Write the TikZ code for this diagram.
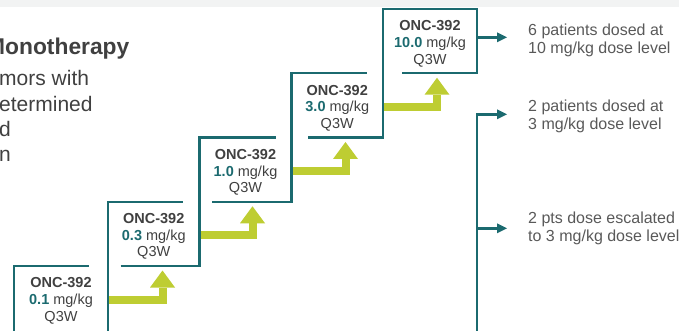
\documentclass[tikz,border=0pt]{standalone}
\usepackage{fontspec}
\setmainfont{Liberation Sans}
\usetikzlibrary{arrows.meta}
\definecolor{doseteal}{HTML}{1B6A6F}
\definecolor{stepgreen}{HTML}{BECD32}
\definecolor{inkgray}{HTML}{404040}
\definecolor{notegray}{HTML}{595959}
\definecolor{bandgray}{HTML}{F2F3F3}

\begin{document}
\begin{tikzpicture}[
    x=1pt, y=-1pt, % pixel-like units, y going down
    frame/.style={draw=doseteal, line width=2.5pt, line join=miter},
    teal arrow/.style={frame, -{Triangle[length=10pt, width=10pt, line width=0pt]}},
    step arrow/.style={draw=stepgreen, line width=8pt, line join=miter, -{Triangle[length=17pt, width=25pt, line width=0pt]}},
    dose/.style={align=center, inner sep=0pt, anchor=north, text=inkgray, font=\fontsize{14.5}{16.7}\selectfont},
    note/.style={align=left, inner sep=0pt, anchor=north west, text=notegray, font=\fontsize{16}{18.5}\selectfont},
    side/.style={inner sep=0pt, anchor=base west, text=inkgray, font=\fontsize{21}{25}\selectfont}
]

    \useasboundingbox (0,0) rectangle (679,331);
    \clip (0,0) rectangle (679,331);

    % --- TOP BAND ---
    \fill[bandgray] (0,0) rectangle (679,7);

    % --- LEFT TEXT (cut by the page edge) ---
    \node[side, font=\bfseries\fontsize{22.8}{25}\selectfont] (title) at (-14,54.5) {Monotherapy};
    \node[side] (line1) at (-1,85.5) {mors with};
    \node[side] (line2) at (-1,111.5) {etermined};
    \node[side] (line3) at (-1,136.7) {d};
    \node[side] (line4) at (-1,161.7) {n};

    % --- GREEN STEP ARROWS ---
    \coordinate (g1s) at (108,299.5);   % from dose 0.1
    \coordinate (g1t) at (162.5,270.5); % to dose 0.3
    \coordinate (g2s) at (199.5,235.25);
    \coordinate (g2t) at (252.5,206.25);
    \coordinate (g3s) at (291.5,171);
    \coordinate (g3t) at (345.5,142);
    \coordinate (g4s) at (383,106.75);
    \coordinate (g4t) at (437,77.75);

    \draw[step arrow] (g1s) -| (g1t);
    \draw[step arrow] (g2s) -| (g2t);
    \draw[step arrow] (g3s) -| (g3t);
    \draw[step arrow] (g4s) -| (g4t);

    % --- STAIRCASE OF DOSE BOXES ---
    \draw[frame] (14,340) -- (14,266) -- (89,266);
    \draw[frame] (108,340) -- (108,201.75) -- (183,201.75);
    \draw[frame] (120.7,266) -- (199.5,266) -- (199.5,137.5) -- (276,137.5);
    \draw[frame] (212.3,201.75) -- (291.5,201.75) -- (291.5,73.25) -- (367,73.25);
    \draw[frame] (308.3,137.5) -- (383,137.5) -- (383,9) -- (477,9) -- (477,73.25) -- (401.7,73.25);

    % Box texts
    \node[dose] (dose1) at (61,277.5) {\textbf{ONC-392}\\\textbf{\color{doseteal}0.1} mg/kg\\Q3W};
    \node[dose] (dose2) at (153.75,213.25) {\textbf{ONC-392}\\\textbf{\color{doseteal}0.3} mg/kg\\Q3W};
    \node[dose] (dose3) at (245.5,149) {\textbf{ONC-392}\\\textbf{\color{doseteal}1.0} mg/kg\\Q3W};
    \node[dose] (dose4) at (337.25,84.75) {\textbf{ONC-392}\\\textbf{\color{doseteal}3.0} mg/kg\\Q3W};
    \node[dose] (dose5) at (430,20.5) {\textbf{ONC-392}\\\textbf{\color{doseteal}10.0} mg/kg\\Q3W};

    % --- OUTCOMES ---
    \coordinate (o1s) at (477,37.3);
    \coordinate (o1t) at (507,37.3);
    \coordinate (o2s) at (477,340);
    \coordinate (o2t) at (507,114.3);
    \coordinate (o3s) at (477,228.3);
    \coordinate (o3t) at (507,228.3);

    \draw[teal arrow] (o1s) -- (o1t);
    \draw[teal arrow] (o2s) |- (o2t);
    \draw[teal arrow] (o3s) -- (o3t);

    \node[note] (note1) at (528,23.3) {6 patients dosed at\\10 mg/kg dose level};
    \node[note] (note2) at (528,99.5) {2 patients dosed at\\3 mg/kg dose level};
    \node[note] (note3) at (528,211.7) {2 pts dose escalated\\to 3 mg/kg dose level};

\end{tikzpicture}
\end{document}
